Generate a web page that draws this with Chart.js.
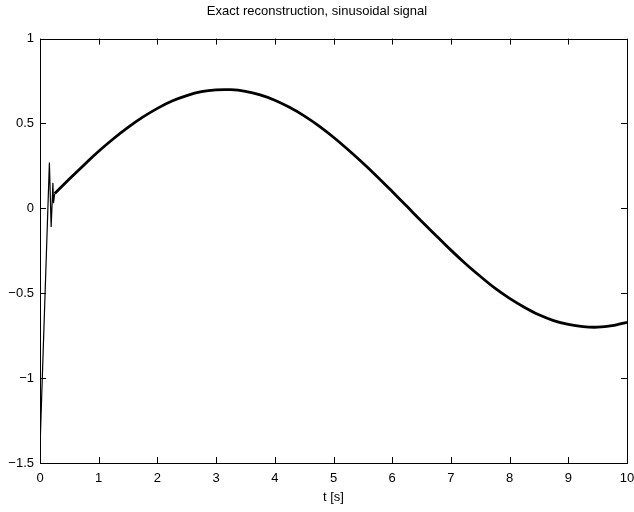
<!DOCTYPE html>
<html>
<head>
<meta charset="utf-8">
<script src="https://cdn.jsdelivr.net/npm/chart.js@4.4.1/dist/chart.umd.min.js"></script>
<style>
  html, body { margin: 0; padding: 0; background: #ffffff; }
  #wrap { width: 634px; height: 512px; }
</style>
</head>
<body>
<div id="wrap"><canvas id="recChart"></canvas></div>
<script>
// ==========================================
// DATA
// ==========================================

// start-up transient, thin line
const transientT = [0, 0.16, 0.19, 0.22, 0.23, 0.25];
const transientY = [-1.41, 0.27, -0.11, 0.15, 0.03, 0.087];

// reconstructed signal, thick line
const signalT = [
  0.25, 0.5, 0.75, 1, 1.25, 1.5, 1.75, 2, 2.25, 2.5,
  2.75, 3, 3.25, 3.5, 3.75, 4, 4.25, 4.5, 4.75, 5,
  5.25, 5.5, 5.75, 6, 6.25, 6.5, 6.75, 7, 7.25, 7.5,
  7.75, 8, 8.25, 8.5, 8.75, 9, 9.25, 9.5, 9.75, 10
];
const signalY = [
  0.087, 0.173, 0.256, 0.336, 0.410, 0.477, 0.537, 0.589, 0.632, 0.664,
  0.687, 0.698, 0.699, 0.689, 0.668, 0.637, 0.595, 0.545, 0.486, 0.419,
  0.345, 0.267, 0.185, 0.099, 0.012, -0.076, -0.161, -0.246, -0.326, -0.400,
  -0.470, -0.530, -0.582, -0.627, -0.661, -0.684, -0.697, -0.700, -0.691, -0.671
];

const xTicks = [0, 1, 2, 3, 4, 5, 6, 7, 8, 9, 10];
const yTicks = [-1.5, -1, -0.5, 0, 0.5, 1];

const FONT = "'Liberation Sans Narrow', 'Liberation Sans', Arial, sans-serif";

function toPoints(xs, ys){
  return xs.map(function(x, i){ return { x: x, y: ys[i] }; });
}

function fmt(v){
  return String(v).replace("-", "\u2212");
}

// ==========================================
// BOX + INWARD TICKS (matlab style)
// ==========================================

const boxTicks = {
  id: "boxTicks",
  afterDraw: function(chart){
    const ctx = chart.ctx;
    const a = chart.chartArea;
    const xs = chart.scales.x;
    const ys = chart.scales.y;
    const len = 6;
    ctx.save();
    ctx.strokeStyle = "#000";
    ctx.lineWidth = 1;
    ctx.strokeRect(Math.round(a.left) + 0.5, Math.round(a.top) + 0.5,
      Math.round(a.right - a.left), Math.round(a.bottom - a.top));
    ctx.beginPath();
    xTicks.forEach(function(v){
      const px = Math.round(xs.getPixelForValue(v)) + 0.5;
      ctx.moveTo(px, a.bottom); ctx.lineTo(px, a.bottom - len);
      ctx.moveTo(px, a.top); ctx.lineTo(px, a.top + len);
    });
    yTicks.forEach(function(v){
      const py = Math.round(ys.getPixelForValue(v)) + 0.5;
      ctx.moveTo(a.left, py); ctx.lineTo(a.left + len, py);
      ctx.moveTo(a.right, py); ctx.lineTo(a.right - len, py);
    });
    ctx.stroke();
    ctx.restore();
  }
};

// ==========================================
// CHART
// ==========================================

new Chart(document.getElementById("recChart"), {

  type: "scatter",

  data: {
    datasets: [
      {
        label: "transient",
        data: toPoints(transientT, transientY),
        showLine: true,
        borderColor: "#000",
        borderWidth: 1.2,
        pointRadius: 0,
        tension: 0
      },
      {
        label: "signal",
        data: toPoints(signalT, signalY),
        showLine: true,
        borderColor: "#000",
        borderWidth: 2.8,
        pointRadius: 0,
        tension: 0.3
      }
    ]
  },

  options: {
    responsive: true,
    maintainAspectRatio: false,
    animation: false,
    layout: { padding: { left: 0, right: 0, top: 0, bottom: 7 } },
    plugins: {
      legend: { display: false },
      tooltip: { enabled: false },
      title: {
        display: true,
        text: "Exact reconstruction, sinusoidal signal",
        color: "#000",
        font: { family: FONT, size: 13, weight: "normal" },
        padding: { top: 4, bottom: 19 }
      }
    },
    scales: {
      x: {
        type: "linear",
        min: 0,
        max: 10,
        afterBuildTicks: function(s){ s.ticks = xTicks.map(function(v){ return { value: v }; }); },
        afterFit: function(s){ s.height = 42; s.paddingLeft = 0; s.paddingRight = 7; },
        grid: { display: false, drawTicks: false },
        border: { display: false },
        ticks: {
          color: "#000",
          padding: 8,
          maxRotation: 0,
          font: { family: FONT, size: 13 },
          callback: function(v){ return fmt(v); }
        },
        title: {
          display: true,
          text: "t [s]",
          color: "#000",
          font: { family: FONT, size: 13 },
          padding: { top: 1, bottom: 0 }
        }
      },
      y: {
        type: "linear",
        min: -1.5,
        max: 1,
        afterBuildTicks: function(s){ s.ticks = yTicks.map(function(v){ return { value: v }; }); },
        afterFit: function(s){ s.width = 40; },
        grid: { display: false, drawTicks: false },
        border: { display: false },
        ticks: {
          color: "#000",
          padding: 6,
          font: { family: FONT, size: 13 },
          callback: function(v){ return fmt(v); }
        }
      }
    }
  },

  plugins: [boxTicks]

});
</script>
</body>
</html>
